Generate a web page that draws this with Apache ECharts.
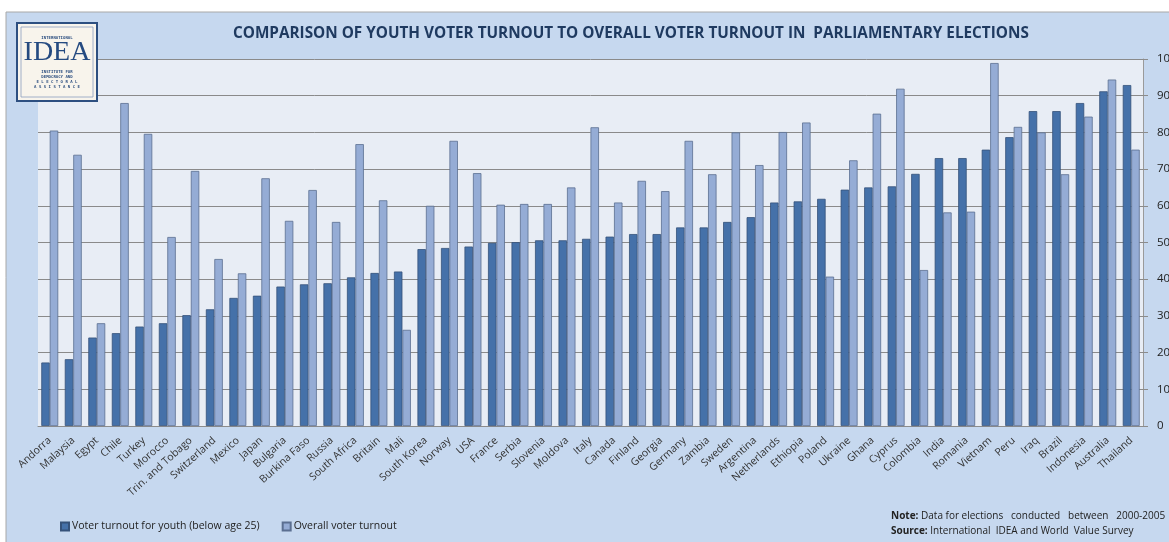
<!DOCTYPE html>
<html>
<head>
<meta charset="utf-8">
<script src="https://cdn.jsdelivr.net/npm/echarts@6/dist/echarts.min.js"></script>
<style>
html,body{margin:0;padding:0;background:#ffffff;}
#chart{width:1169px;height:542px;}
</style>
</head>
<body>
<div id="chart"></div>
<script>
const countries = ["Andorra","Malaysia","Egypt","Chile","Turkey","Morocco","Trin. and Tobago","Switzerland","Mexico","Japan","Bulgaria","Burkina Faso","Russia","South Africa","Britain","Mali","South Korea","Norway","USA","France","Serbia","Slovenia","Moldova","Italy","Canada","Finland","Georgia","Germany","Zambia","Sweden","Argentina","Netherlands","Ethiopia","Poland","Ukraine","Ghana","Cyprus","Colombia","India","Romania","Vietnam","Peru","Iraq","Brazil","Indonesia","Australia","Thailand"];
const youthTurnout = [17.3,18.2,24.1,25.3,27.1,28.0,30.2,31.8,34.9,35.5,38.0,38.6,38.9,40.5,41.7,42.1,48.2,48.5,48.9,49.9,50.1,50.6,50.6,51.0,51.6,52.3,52.3,54.1,54.1,55.6,56.9,60.9,61.2,61.9,64.4,65.0,65.3,68.7,73.0,73.0,75.3,78.7,85.8,85.8,88.0,91.2,92.9];
const overallTurnout = [80.5,73.9,28.0,88.0,79.6,51.5,69.5,45.5,41.6,67.5,55.9,64.3,55.6,76.8,61.5,26.2,60.0,77.7,68.9,60.3,60.5,60.5,65.0,81.4,60.9,66.8,64.0,77.7,68.6,80.0,71.1,80.1,82.7,40.7,72.4,85.1,91.9,42.5,58.2,58.4,98.9,81.5,80.0,68.6,84.3,94.4,75.3];
const yTicks = [0,10,20,30,40,50,60,70,80,90,100];
const seriesNames = ["Voter turnout for youth (below age 25)","Overall voter turnout"];

const chart = echarts.init(document.getElementById('chart'), null, {renderer:'canvas'});
const font = "'Open Sans', 'Noto Sans', sans-serif";
chart.setOption({
  animation:false,
  backgroundColor:'#ffffff',
  graphic:[
    {type:'rect', z:-10, shape:{x:6,y:12,width:1170,height:540}, style:{fill:'#c6d8ef', stroke:'#a8a8a8', lineWidth:1}},
    {type:'rect', z:-9, shape:{x:38,y:59,width:1105,height:367}, style:{fill:'#e8edf5'}},
    {type:'text', x:233, y:34, style:{text:'COMPARISON OF YOUTH VOTER TURNOUT TO OVERALL VOTER TURNOUT IN  PARLIAMENTARY ELECTIONS', font:"bold 15.3px 'Open Sans', sans-serif", fill:'#1f3a60', verticalAlign:'middle'}},
    {type:'rect', z:10, shape:{x:17,y:23,width:80,height:78}, style:{fill:'#f8f4ec', stroke:'#2d4f80', lineWidth:2}},
    {type:'rect', z:10, shape:{x:21,y:27,width:72,height:70}, style:{fill:'none', stroke:'#8aa0c0', lineWidth:0.8}},
    {type:'text', z:11, x:57, y:36, style:{text:'INTERNATIONAL', font:"bold 4px 'DejaVu Sans Mono', monospace", fill:'#2d4f80', align:'center'}},
    {type:'text', z:11, x:57, y:39, style:{text:'IDEA', font:"28px 'Liberation Serif', serif", fill:'#254a80', align:'center'}},
    {type:'text', z:11, x:57, y:69, style:{text:'INSTITUTE FOR\nDEMOCRACY AND\nE L E C T O R A L\nA S S I S T A N C E', font:"bold 4px 'DejaVu Sans Mono', monospace", fill:'#2d4f80', align:'center', lineHeight:5}},
    {type:'text', x:891, y:511, style:{text:'{b|Note:} Data for elections   conducted   between   2000-2005', font:"10px 'Open Sans', sans-serif", fill:'#222', rich:{b:{fontWeight:'bold', fontSize:10, fontFamily:'Open Sans'}}}},
    {type:'text', x:891, y:526, style:{text:'{b|Source:} International  IDEA and World  Value Survey', font:"10px 'Open Sans', sans-serif", fill:'#222', rich:{b:{fontWeight:'bold', fontSize:10, fontFamily:'Open Sans'}}}}
  ],
  legend:{
    left:55, top:516, itemWidth:8, itemHeight:8, itemGap:22,
    icon:'rect',
    textStyle:{fontSize:10.5, color:'#222', fontFamily:font, padding:[0,0,0,-2]},
    data:seriesNames
  },
  grid:{left:38, right:26, top:59, bottom:116, containLabel:false, outerBoundsMode:'none'},
  xAxis:{
    type:'category', data:countries,
    axisLine:{show:true, lineStyle:{color:'#8c8c8c'}},
    axisTick:{show:false},
    axisLabel:{rotate:42, fontSize:10.5, color:'#333', fontFamily:font, margin:13, interval:0}
  },
  yAxis:{
    type:'value', position:'right', min:0, max:100, interval:10,
    axisLine:{show:true, lineStyle:{color:'#9a9a9a'}},
    axisTick:{show:true, length:5, lineStyle:{color:'#8c8c8c'}},
    axisLabel:{fontSize:11.5, color:'#222', fontFamily:font, margin:14},
    splitLine:{lineStyle:{color:'#8a8a8a', width:1}}
  },
  series:[
    {name:seriesNames[0], type:'bar', data:youthTurnout, barGap:'0%', barCategoryGap:'28%',
     itemStyle:{color:'#4571a9', borderColor:'#35527a', borderWidth:0.8}},
    {name:seriesNames[1], type:'bar', data:overallTurnout,
     itemStyle:{color:'#95acd5', borderColor:'#5b6f91', borderWidth:0.8}}
  ]
});
</script>
</body>
</html>
